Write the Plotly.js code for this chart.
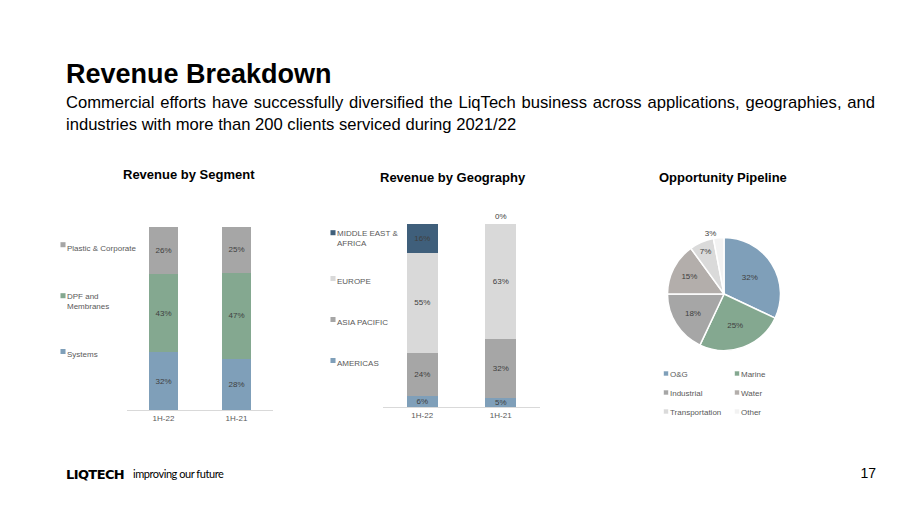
<!DOCTYPE html>
<html>
<head>
<meta charset="utf-8">
<script src="https://cdn.plot.ly/plotly-3.0.1.min.js"></script>
<style>
  html, body { margin:0; padding:0; background:#fff; }
  body { width:900px; height:506px; position:relative; overflow:hidden; font-family: Arial, "Liberation Sans", sans-serif; }
  #main { position:absolute; left:0; top:0; width:900px; height:506px; }
  #pie { position:absolute; left:610px; top:160px; width:200px; height:270px; }
  #title { position:absolute; left:66px; top:61px; font-weight:bold; font-size:27px; line-height:27px; color:#000; }
  .sub { position:absolute; left:66px; width:809px; font-size:16.6px; line-height:22px; color:#000; white-space:nowrap; }
  #sub1 { top:92px; text-align:justify; text-align-last:justify; }
  #sub2 { top:114px; }
  #logo { position:absolute; left:66px; top:467px; font-family:"DejaVu Sans", sans-serif; font-weight:bold; font-size:13px; letter-spacing:-0.6px; color:#000; }
  #tag { position:absolute; left:133px; top:467px; font-family:Lato, sans-serif; font-size:11px; letter-spacing:-0.45px; color:#000; }
  #page { position:absolute; right:24px; top:465px; font-size:14px; color:#000; }
  /* small legend keys set close to their labels, as in the reference */
  .legendpoints path { transform: translate(36px, 0px) scale(0.42); }
</style>
</head>
<body>
<div id="main"></div>
<div id="pie"></div>
<div id="title">Revenue Breakdown</div>
<div class="sub" id="sub1">Commercial efforts have successfully diversified the LiqTech business across applications, geographies, and</div>
<div class="sub" id="sub2">industries with more than 200 clients serviced during 2021/22</div>
<div id="logo">LIQTECH</div>
<div id="tag">improving our future</div>
<div id="page">17</div>
<script>
// ---- data ----
const segCategories = ['1H-22', '1H-21'];
const segSystems = [32, 28];
const segDPF = [43, 47];
const segPlastic = [26, 25];

const geoCategories = ['1H-22', '1H-21'];
const geoAmericas = [6, 5];
const geoAsiaPacific = [24, 32];
const geoEurope = [55, 63];
const geoMEA = [16, 0];

const pipeLabels = ['O&G', 'Marine', 'Industrial', 'Water', 'Transportation', 'Other'];
const pipeValues = [32, 25, 18, 15, 7, 3];

// ---- styles ----
const cBlue = '#7f9fb9', cGreen = '#84a890', cGray = '#a6a6a6', cDark = '#3f5f7b', cLight = '#d9d9d9';
const pct = a => a.map(v => v + '%');
const txtFont = {size: 8, color: '#404040'};

function barTrace(name, x, y, color, xa, ya, lg, rank, textpos) {
  return {
    type: 'bar', name: name, x: x, y: y, marker: {color: color},
    xaxis: xa, yaxis: ya, legend: lg, legendgroup: lg + rank, legendrank: rank,
    text: pct(y), textposition: textpos || 'inside', insidetextanchor: 'middle', textangle: 0, constraintext: 'none',
    textfont: txtFont, outsidetextfont: txtFont, insidetextfont: txtFont,
    cliponaxis: false, hoverinfo: 'none'
  };
}

const traces = [
  barTrace('Systems', segCategories, segSystems, cBlue, 'x', 'y', 'legend', 3),
  barTrace('DPF and<br>Membranes', segCategories, segDPF, cGreen, 'x', 'y', 'legend', 2),
  barTrace('Plastic & Corporate', segCategories, segPlastic, cGray, 'x', 'y', 'legend', 1),
  barTrace('AMERICAS', geoCategories, geoAmericas, cBlue, 'x2', 'y2', 'legend2', 4),
  barTrace('ASIA PACIFIC', geoCategories, geoAsiaPacific, cGray, 'x2', 'y2', 'legend2', 3),
  barTrace('EUROPE', geoCategories, geoEurope, cLight, 'x2', 'y2', 'legend2', 2),
  barTrace('MIDDLE EAST &<br>AFRICA', geoCategories, geoMEA, cDark, 'x2', 'y2', 'legend2', 1, ['inside', 'outside'])
];

const H = 506, W = 900;
const xax = d => ({domain: d, type: 'category', showline: true, linecolor: '#d9d9d9', linewidth: 1,
  ticks: '', showgrid: false, zeroline: false, fixedrange: true,
  tickfont: {size: 8, color: '#595959'}});
const yax = (d, anchor) => ({domain: d, anchor: anchor, range: [0, 100], visible: false, fixedrange: true});
const legendFont = {size: 8, color: '#595959'};
const titleFont = {size: 13, color: '#000'};

const layout = {
  width: W, height: H, margin: {l: 0, r: 0, t: 0, b: 0, pad: 0, autoexpand: false},
  paper_bgcolor: 'rgba(0,0,0,0)', plot_bgcolor: 'rgba(0,0,0,0)',
  font: {family: 'Arial, "Liberation Sans", sans-serif', color: '#595959'},
  barmode: 'stack', barnorm: 'percent', bargap: 0.6,
  showlegend: true,
  xaxis: Object.assign(xax([127 / W, 273 / W]), {anchor: 'y'}),
  yaxis: yax([(H - 410) / H, (H - 227) / H], 'x'),
  xaxis2: Object.assign(xax([383 / W, 540 / W]), {anchor: 'y2'}),
  yaxis2: yax([(H - 407) / H, (H - 224) / H], 'x2'),
  legend: {xref: 'paper', yref: 'paper', x: 27 / W, y: 1 - 233 / H, xanchor: 'left', yanchor: 'top',
    traceorder: 'grouped', tracegroupgap: 32, valign: 'top', font: legendFont, bgcolor: 'rgba(0,0,0,0)'},
  legend2: {xref: 'paper', yref: 'paper', x: 297 / W, y: 1 - 221 / H, xanchor: 'left', yanchor: 'top',
    traceorder: 'grouped', tracegroupgap: 22, valign: 'top', font: legendFont, bgcolor: 'rgba(0,0,0,0)'},
  annotations: [
    {text: '<b>Revenue by Segment</b>', x: 189 / W, y: 1 - 174 / H, xanchor: 'center', yanchor: 'middle', xref: 'paper', yref: 'paper', showarrow: false, font: titleFont},
    {text: '<b>Revenue by Geography</b>', x: 453 / W, y: 1 - 177 / H, xanchor: 'center', yanchor: 'middle', xref: 'paper', yref: 'paper', showarrow: false, font: titleFont},
    {text: '<b>Opportunity Pipeline</b>', x: 723 / W, y: 1 - 177 / H, xanchor: 'center', yanchor: 'middle', xref: 'paper', yref: 'paper', showarrow: false, font: titleFont}
  ]
};

Plotly.newPlot('main', traces, layout, {staticPlot: true, displayModeBar: false});

// ---- pie ----
const PW = 200, PH = 270;
const cx = 724 - 610, cy = 294 - 160, r = 56.5;
const pieTrace = {
  type: 'pie', labels: pipeLabels, values: pipeValues, sort: false, direction: 'clockwise', rotation: 0,
  marker: {colors: [cBlue, cGreen, cGray, '#b3aeab', '#dadada', '#f2f2f2'], line: {color: '#fff', width: 1.5}},
  text: pct(pipeValues), textinfo: 'text', textposition: ['inside', 'inside', 'inside', 'inside', 'inside', 'outside'],
  insidetextorientation: 'horizontal', textfont: txtFont, outsidetextfont: txtFont, insidetextfont: txtFont,
  domain: {x: [(cx - r) / PW, (cx + r) / PW], y: [(PH - cy - r) / PH, (PH - cy + r) / PH]},
  hoverinfo: 'none'
};
const pieLayout = {
  width: PW, height: PH, margin: {l: 0, r: 0, t: 0, b: 0, pad: 0, autoexpand: false},
  paper_bgcolor: 'rgba(0,0,0,0)', plot_bgcolor: 'rgba(0,0,0,0)',
  font: {family: 'Arial, "Liberation Sans", sans-serif', color: '#595959'},
  showlegend: true,
  legend: {orientation: 'h', xref: 'paper', yref: 'paper', x: 20 / PW, y: 1 - 199 / PH,
    xanchor: 'left', yanchor: 'top', entrywidth: 26, font: legendFont, bgcolor: 'rgba(0,0,0,0)'}
};
Plotly.newPlot('pie', [pieTrace], pieLayout, {staticPlot: true, displayModeBar: false});
</script>
</body>
</html>
